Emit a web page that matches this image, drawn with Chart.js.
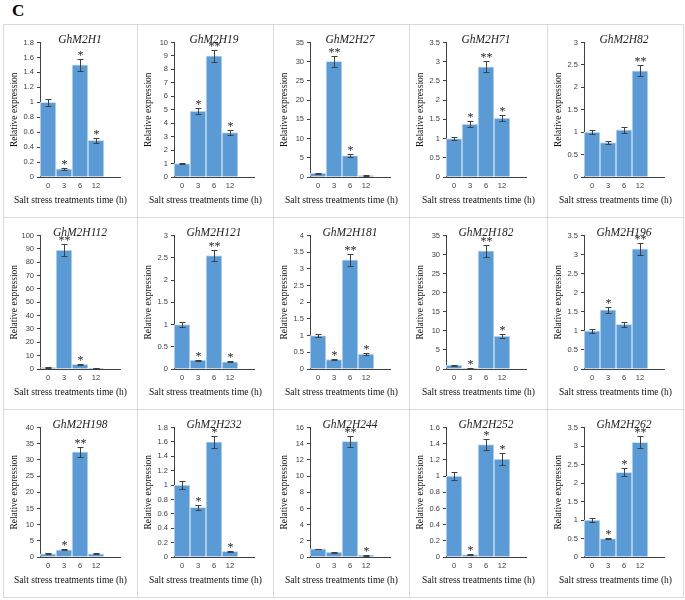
<!DOCTYPE html>
<html>
<head>
<meta charset="utf-8">
<script src="https://cdn.jsdelivr.net/npm/chart.js@4.4.0/dist/chart.umd.min.js"></script>
<style>
body { margin: 0; background: #fff; width: 685px; height: 600px; position: relative; overflow: hidden; }
#label { position: absolute; left: 12px; top: 1px; font: bold 17px/20px 'Liberation Serif', serif; }
.panel { position: absolute; border: 1px solid #d9d9d9; box-sizing: border-box; }
.panel div { position: relative; width: 100%; height: 100%; }
</style>
</head>
<body>
<div id="label">C</div>
<script>
// --- data ---
const genes = ['GhM2H1', 'GhM2H19', 'GhM2H27', 'GhM2H71', 'GhM2H82',
               'GhM2H112', 'GhM2H121', 'GhM2H181', 'GhM2H182', 'GhM2H196',
               'GhM2H198', 'GhM2H232', 'GhM2H244', 'GhM2H252', 'GhM2H262'];
const times = ['0', '3', '6', '12', ''];
const expr = [
    [1.0, 0.11, 1.5, 0.49],
    [1.0, 4.9, 9.0, 3.3],
    [1.0, 30.1, 5.6, 0.4],
    [1.0, 1.38, 2.87, 1.53],
    [1.0, 0.77, 1.05, 2.37],
    [1.0, 89, 3.5, 0.6],
    [1.0, 0.2, 2.55, 0.16],
    [1.0, 0.28, 3.27, 0.45],
    [1.0, 0.15, 31.0, 8.6],
    [1.0, 1.55, 1.17, 3.15],
    [1.0, 2.2, 32.5, 1.0],
    [1.0, 0.69, 1.6, 0.08],
    [1.0, 0.6, 14.3, 0.2],
    [1.0, 0.03, 1.39, 1.21],
    [1.0, 0.5, 2.29, 3.1]
];
const sem = [
    [0.05, 0.01, 0.08, 0.03],
    [0.04, 0.22, 0.45, 0.18],
    [0.1, 1.5, 0.3, 0.1],
    [0.05, 0.07, 0.15, 0.08],
    [0.05, 0.04, 0.06, 0.12],
    [0.3, 4.5, 0.3, 0.1],
    [0.06, 0.01, 0.13, 0.01],
    [0.05, 0.02, 0.17, 0.02],
    [0.1, 0.05, 1.6, 0.5],
    [0.05, 0.08, 0.06, 0.16],
    [0.1, 0.15, 1.6, 0.1],
    [0.06, 0.035, 0.08, 0.005],
    [0.05, 0.05, 0.7, 0.05],
    [0.05, 0.005, 0.07, 0.07],
    [0.05, 0.025, 0.11, 0.16]
];
const marks = [
    ['', '*', '*', '*'],
    ['', '*', '**', '*'],
    ['', '**', '*', ''],
    ['', '*', '**', '*'],
    ['', '', '', '**'],
    ['', '**', '*', ''],
    ['', '*', '**', '*'],
    ['', '*', '**', '*'],
    ['', '*', '**', '*'],
    ['', '*', '', '**'],
    ['', '*', '**', ''],
    ['', '*', '*', '*'],
    ['', '', '**', '*'],
    ['', '*', '*', '*'],
    ['', '*', '*', '**']
];
const yMax = [1.8, 10, 35, 3.5, 3, 100, 3, 4, 35, 3.5, 40, 1.8, 16, 1.6, 3.5];
const yStep = [0.2, 1, 5, 0.5, 0.5, 10, 0.5, 0.5, 5, 0.5, 5, 0.2, 2, 0.2, 0.5];

// --- panel grid ---
const colX = [3, 137, 273, 409, 547, 683];
const rowY = [24, 217, 409, 597];

const errorBars = {
    id: 'errorBars',
    afterDatasetsDraw(chart, args, opts) {
        const ctx = chart.ctx;
        const y = chart.scales.y;
        const meta = chart.getDatasetMeta(0);
        const vals = chart.data.datasets[0].data;
        ctx.save();
        ctx.strokeStyle = '#404040';
        ctx.lineWidth = 1;
        meta.data.forEach((bar, i) => {
            if (vals[i] == null) return;
            const x = Math.round(bar.x) + 0.5;
            const hi = Math.round(y.getPixelForValue(vals[i] + opts.err[i])) + 0.5;
            const lo = Math.round(y.getPixelForValue(vals[i] - opts.err[i])) + 0.5;
            ctx.beginPath();
            ctx.moveTo(x, hi); ctx.lineTo(x, lo);
            ctx.moveTo(x - 3, hi); ctx.lineTo(x + 3, hi);
            ctx.moveTo(x - 3, lo); ctx.lineTo(x + 3, lo);
            ctx.stroke();
            if (opts.marks[i]) {
                ctx.fillStyle = '#222';
                ctx.font = '12px "Liberation Serif"';
                ctx.textAlign = 'center';
                ctx.textBaseline = 'middle';
                ctx.fillText(opts.marks[i], x, hi - 4);
            }
        });
        ctx.restore();
    },
    afterDraw(chart, args, opts) {
        const ctx = chart.ctx;
        ctx.save();
        ctx.fillStyle = '#111';
        ctx.font = '9.5px "Liberation Serif"';
        ctx.textAlign = 'center';
        ctx.textBaseline = 'middle';
        ctx.fillText(opts.xTitle, chart.width / 2, chart.height - 17);
        ctx.restore();
    }
};

genes.forEach((gene, k) => {
    const col = k % 5, row = Math.floor(k / 5);
    const w = colX[col + 1] - colX[col];
    const h = rowY[row + 1] - rowY[row];
    const panel = document.createElement('div');
    panel.className = 'panel';
    panel.style.left = colX[col] + 'px';
    panel.style.top = rowY[row] + 'px';
    panel.style.width = (w + 1) + 'px';
    panel.style.height = (h + 1) + 'px';
    const inner = document.createElement('div');
    const canvas = document.createElement('canvas');
    inner.appendChild(canvas);
    panel.appendChild(inner);
    document.body.appendChild(panel);

    const cw = w - 1;
    new Chart(canvas.getContext('2d'), {
        type: 'bar',
        data: {
            labels: times,
            datasets: [{
                data: expr[k],
                backgroundColor: '#5B9BD5',
                borderColor: '#d2e2f2',
                borderWidth: 1,
                barPercentage: 1,
                categoryPercentage: 1
            }]
        },
        plugins: [errorBars],
        options: {
            responsive: true,
            maintainAspectRatio: false,
            animation: false,
            devicePixelRatio: 1,
            layout: { padding: { top: 0, left: 0, bottom: 0, right: cw - 36 - 80 } },
            plugins: {
                legend: { display: false },
                tooltip: { enabled: false },
                title: {
                    display: true,
                    text: gene,
                    fullSize: false,
                    color: '#222',
                    font: { family: 'Liberation Serif', size: 11.5, style: 'italic', weight: 'normal', lineHeight: 1 },
                    padding: { top: 9, bottom: -3 }
                },
                errorBars: { err: sem[k], marks: marks[k], xTitle: 'Salt stress treatments time (h)' }
            },
            scales: {
                x: {
                    grid: { display: false, drawTicks: false },
                    border: { display: true, color: '#404040', width: 1 },
                    ticks: { color: '#404040', font: { family: 'Liberation Sans', size: 7.5 }, padding: 4, maxRotation: 0, autoSkip: false },
                    afterFit(s) { s.height = 40; }
                },
                y: {
                    min: 0,
                    max: yMax[k],
                    grid: { drawOnChartArea: false, drawTicks: true, tickLength: 3, color: '#404040' },
                    border: { display: true, color: '#404040', width: 1 },
                    ticks: {
                        stepSize: yStep[k],
                        color: '#404040',
                        padding: 3,
                        font: { family: 'Liberation Sans', size: 7.5 },
                        callback: v => String(+v.toFixed(2))
                    },
                    title: {
                        display: true,
                        text: 'Relative expression',
                        color: '#111',
                        font: { family: 'Liberation Serif', size: 9.5 },
                        padding: { top: 5, bottom: 0 }
                    },
                    afterFit(s) { s.width = 36; }
                }
            }
        }
    });
});
</script>
</body>
</html>
